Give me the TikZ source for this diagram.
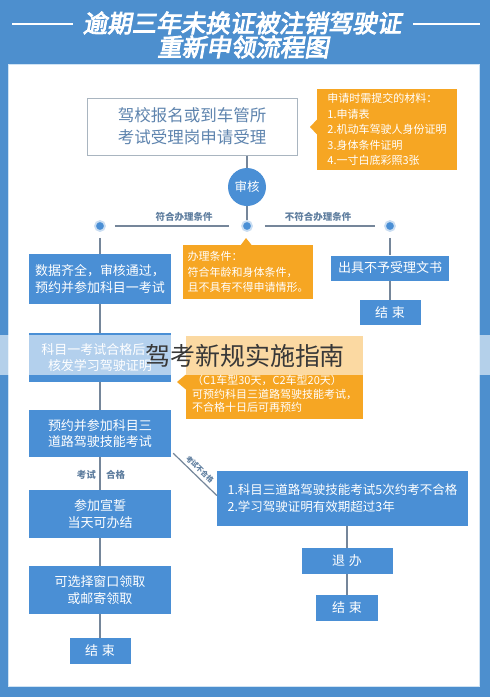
\documentclass[tikz,border=0pt]{standalone}
\usepackage{fontspec}
\setmainfont{Noto Sans CJK SC}
\newfontfamily\titlefont{Noto Sans CJK SC}[FakeBold=3.5,FakeSlant=0.18]
\usetikzlibrary{calc}
\definecolor{pageblue}{HTML}{4D8FCE}
\definecolor{boxblue}{HTML}{4A8FD5}
\definecolor{ringblue}{HTML}{C9DDF2}
\definecolor{orng}{HTML}{F6A623}
\definecolor{linegray}{HTML}{75869A}
\definecolor{labelblue}{HTML}{5F7E9F}
\definecolor{boxgray}{HTML}{A9B5C0}
\definecolor{boxtxt}{HTML}{5E84AE}
\definecolor{panelline}{HTML}{CFE3F4}
\begin{document}
\begin{tikzpicture}[x=1pt,y=-1pt,
  bbox/.style={rectangle, fill=boxblue, text=white, inner sep=0pt, align=center,
    font=\fontsize{13}{16.5}\selectfont},
  callout/.style={rectangle, fill=orng, text=white, inner sep=0pt, align=left,
    font=\fontsize{11}{15.5}\selectfont},
  ctext/.style={text=white, inner sep=0pt, align=left, font=\fontsize{11}{13.5}\selectfont},
  conn/.style={draw=linegray, line width=1.2pt},
  dotn/.style={circle, fill=boxblue, draw=ringblue, line width=1.8pt, minimum size=10pt, inner sep=0pt},
  lbl/.style={text=labelblue, inner sep=1pt, font=\fontsize{9.5}{11}\selectfont\bfseries},
  ttl/.style={text=white, inner sep=0pt, font=\fontsize{24.5}{27}\titlefont}
]
\useasboundingbox (0,0) rectangle (490,697);
% page and panel
\fill[pageblue] (0,0) rectangle (490,697);
\filldraw[fill=white, draw=panelline, line width=1pt] (8.5,64) rectangle (479,686);
% title
\node[ttl] (t1) at (242,23) {逾期三年未换证被注销驾驶证};
\node[ttl] (t2) at (243,47) {重新申领流程图};
\draw[white, line width=2.5pt] (12,24) -- (73,24);
\draw[white, line width=2.5pt] (413,24) -- (480,24);

% first box and material callout
\node[rectangle, draw=boxgray, fill=white, line width=1pt, minimum width=210pt, minimum height=57pt,
  text=boxtxt, align=center, font=\fontsize{16.5}{22}\selectfont] (b1) at (192,126.5)
  {驾校报名或到车管所\\考试受理岗申请受理};
\node[callout, minimum width=140pt, minimum height=81pt] (c1) at (387,129.5)
  {申请时需提交的材料：\\1.申请表\\2.机动车驾驶人身份证明\\3.身体条件证明\\4.一寸白底彩照3张};
\fill[orng] (317.5,119) -- (310,127) -- (317.5,135) -- cycle;

% review circle and branches
\node[circle, fill=boxblue, minimum size=38pt, inner sep=0pt, text=white,
  font=\fontsize{12.5}{14}\selectfont] (sh) at (247,187) {审核};
\node[dotn] (dL) at (100,226) {};
\node[dotn] (dC) at (247,226) {};
\node[dotn] (dR) at (390,226) {};
\draw[conn] (b1.south -| sh) -- (sh);
\draw[conn] (sh) -- (dC);
\draw[conn, shorten <=9pt, shorten >=12pt] (dL) -- (dC);
\draw[conn, shorten <=12pt, shorten >=9pt] (dC) -- (dR);
\node[lbl] (lk1) at (184,217) {符合办理条件};
\node[lbl] (lk2) at (318,217) {不符合办理条件};

% condition callout
\node[callout, minimum width=130pt, minimum height=54pt] (c2) at (248,272)
  {办理条件：\\符合年龄和身体条件，\\且不具有不得申请情形。};
\fill[orng] (240.5,245.5) -- (246,238) -- (252,245.5) -- cycle;

% right branch
\node[bbox, minimum width=118pt, minimum height=25pt] (R1) at (390,268) {出具不予受理文书};
\node[bbox, minimum width=61pt, minimum height=25pt] (RE1) at (390,312.5) {结\hspace{4pt}束};
\draw[conn, shorten <=6pt] (dR) -- (dR |- R1.north);
\draw[conn] (R1) -- (RE1);

% left column
\node[bbox, minimum width=142pt, minimum height=50pt] (L1) at (100,279) {数据齐全，审核通过，\\预约并参加科目一考试};
\node[bbox, minimum width=142pt, minimum height=49pt] (L2) at (100,357.5) {科目一考试合格后，\\核发学习驾驶证明};
\node[bbox, minimum width=142pt, minimum height=47pt] (L3) at (100,433.5) {预约并参加科目三\\道路驾驶技能考试};
\node[bbox, minimum width=142pt, minimum height=48pt] (L4) at (100,514) {参加宣誓\\当天可办结};
\node[bbox, minimum width=142pt, minimum height=48pt] (L5) at (100,590) {可选择窗口领取\\或邮寄领取};
\node[bbox, minimum width=61pt, minimum height=26pt] (LE) at (100,651) {结\hspace{4pt}束};
\draw[conn, shorten <=6pt] (dL) -- (dL |- L1.north);
\draw[conn] (L1) -- (L2);
\draw[conn] (L2) -- (L3);
\draw[conn] (L3) -- (L4);
\draw[conn] (L4) -- (L5);
\draw[conn] (L5) -- (LE);
\node[lbl, anchor=east] (lk3) at (97,475) {考试};
\node[lbl, anchor=west] (lk4) at (105,475) {合格};

% study-permit callout
\node[rectangle, fill=orng, minimum width=177pt, minimum height=83pt, inner sep=0pt] (c3) at (274.5,377.5) {};
\fill[orng] (186.5,374) -- (177,382) -- (186.5,390) -- cycle;
\node[ctext, anchor=north west] (c3t) at (192,375)
  {（C1车型30天，C2车型20天）\\可预约科目三道路驾驶技能考试，\\不合格十日后可再预约};

% failure branch
\node[bbox, minimum width=251pt, minimum height=55pt, align=left,
  font=\fontsize{12.5}{17}\selectfont] (R4) at (342.5,498.5)
  {1.科目三道路驾驶技能考试5次约考不合格\\2.学习驾驶证明有效期超过3年};
\node[bbox, minimum width=91pt, minimum height=26pt] (TB) at (347,561) {退\hspace{4pt}办};
\node[bbox, minimum width=62pt, minimum height=26pt] (RE2) at (347,608) {结\hspace{4pt}束};
\draw[conn] ($(L3.south east)+(2,-4)$) -- ($(R4.west)+(0,-3)$)
  node[midway, sloped, above, text=labelblue, inner sep=3pt, font=\fontsize{7}{8}\selectfont\bfseries] (lk5) {考试不合格};
\draw[conn] (R4.south -| TB) -- (TB);
\draw[conn] (TB) -- (RE2);

% watermark band
\fill[white, opacity=0.58] (0,335) rectangle (490,375);
\node[text=black!78, inner sep=0pt, font=\fontsize{25}{28}\selectfont] (wm) at (245,356) {驾考新规实施指南};
\end{tikzpicture}
\end{document}
